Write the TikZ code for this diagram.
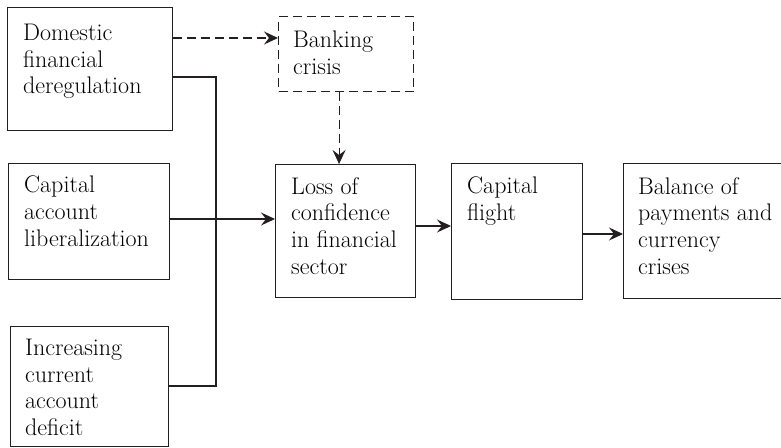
\documentclass[tikz,border=0pt]{standalone}
\usetikzlibrary{arrows.meta}
\definecolor{ink}{HTML}{231F20}
\begin{document}
\begin{tikzpicture}[x=1pt,y=-1pt,
  box/.style={draw=ink, line width=1.1pt, inner sep=0pt},
  dbox/.style={box, dash pattern=on 9pt off 5pt},
  txt/.style={anchor=north west, inner sep=0pt, align=left, text=black,
    font=\fontsize{24}{26.7}\selectfont},
  conn/.style={draw=ink, line width=1.1pt},
  arr/.style={conn, -{Stealth[length=14pt,width=13pt,inset=5pt]}},
  darr/.style={arr, dash pattern=on 9pt off 5pt}]
\useasboundingbox (0,0) rectangle (781,447);
% boxes
\node[box, minimum width=165pt, minimum height=123pt, anchor=north west] (A) at (7,7) {};
\node[dbox, minimum width=135pt, minimum height=75pt, anchor=north west] (Bank) at (278,16) {};
\node[box, minimum width=161pt, minimum height=116pt, anchor=north west] (B) at (8,163) {};
\node[box, minimum width=158pt, minimum height=120pt, anchor=north west] (C) at (10,326) {};
\node[box, minimum width=140pt, minimum height=133pt, anchor=north west] (Loss) at (275,164) {};
\node[box, minimum width=131pt, minimum height=136pt, anchor=north west] (CF) at (451,163) {};
\node[box, minimum width=170pt, minimum height=135pt, anchor=north west] (BP) at (623,163) {};
% texts
\node[txt] (tA) at (23,24) {Domestic\\financial\\deregulation};
\node[txt] (tBank) at (293,31) {Banking\\crisis};
\node[txt] (tB) at (24,176) {Capital\\account\\liberalization};
\node[txt] (tC) at (25,339) {Increasing\\current\\account\\deficit};
\node[txt] (tLoss) at (291,177) {Loss of\\confidence\\in financial\\sector};
\node[txt] (tCF) at (467,177) {Capital\\flight};
\node[txt] (tBP) at (638,177) {Balance of\\payments and\\currency\\crises};
% junction coordinates
\coordinate (J1) at (216,77);
\coordinate (J2) at (216,386);
% connectors
\draw[darr] ([yshift=-31pt]A.north east) -- ([yshift=-31pt]A.north east -| Bank.west);
\draw[darr] ([xshift=-7pt]Bank.south) -- ([xshift=-7pt]Bank.south |- Loss.north);
\draw[conn] (A.east |- J1) -- (J1) -- (J2) -- (C.east |- J2);
\draw[arr] ([yshift=-56pt]B.north east) -- ([yshift=-56pt]B.north east -| Loss.west);
\draw[arr] ([yshift=-62pt]Loss.north east) -- ([yshift=-62pt]Loss.north east -| CF.west);
\draw[arr] ([yshift=-71pt]CF.north east) -- ([yshift=-71pt]CF.north east -| BP.west);
\end{tikzpicture}
\end{document}
